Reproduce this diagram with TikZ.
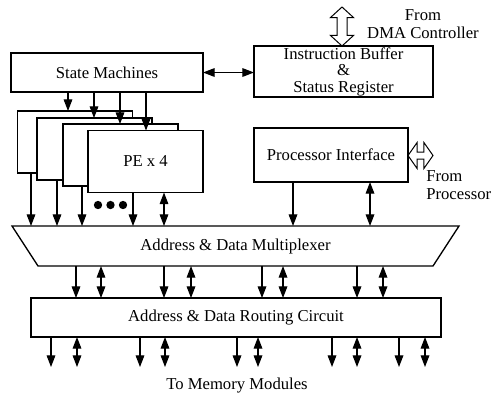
\documentclass[tikz,border=0pt]{standalone}
\usepackage{fontspec}
\setmainfont{Liberation Serif}
\usetikzlibrary{arrows.meta,shapes.arrows}

\begin{document}
\begin{tikzpicture}[
  x=0.6pt, y=-0.6pt,
  font=\fontsize{10}{12}\selectfont,
  block/.style={draw,line width=0.8pt,fill=white,inner sep=0pt,outer sep=0pt,align=center},
  pe/.style={block,minimum width=69pt,minimum height=37.2pt},
  to/.style={-{Triangle[length=7pt,width=5.2pt]},line width=0.7pt},
  both/.style={{Triangle[length=7pt,width=5.2pt]}-{Triangle[length=7pt,width=5.2pt]},line width=0.7pt},
  hollow/.style={draw,line width=0.6pt,double arrow,inner xsep=0pt,outer sep=0pt},
  dot/.style={circle,fill,inner sep=0pt,minimum size=5pt}]

  \useasboundingbox (0,0) rectangle (491,395);

  % Control blocks on top
  \node[block,minimum width=115.2pt,minimum height=23.4pt] (sm) at (107,72.5) {State Machines};
  \node[block,minimum width=107.4pt,minimum height=30.6pt,font=\fontsize{10}{9.9}\selectfont]
    (ib) at (343.5,71.5) {Instruction Buffer\\\&\\Status Register};
  \node[hollow,rotate=90,minimum height=23.4pt,inner ysep=2.7pt,
    double arrow head extend=3.9pt,double arrow tip angle=95] (dma) at (342,26.5) {};
  \node[align=center,font=\fontsize{10}{11}\selectfont] (dmatxt) at (423,24) {From\\DMA Controller};

  % Stack of processing elements
  \node[pe] (pe1) at (75,142) {};
  \node[pe] (pe2) at (94.5,149) {};
  \node[pe] (pe3) at (120.5,155) {};
  \node[pe] (pe4) at (145.5,161.5) {PE x 4};
  \node[dot] (d1) at (98,205) {};
  \node[dot] (d2) at (110.5,205) {};
  \node[dot] (d3) at (123,205) {};

  \node[block,minimum width=92.4pt,minimum height=32.4pt] (pi) at (331,155) {Processor Interface};
  \node[hollow,minimum height=15pt,inner ysep=1.8pt,
    double arrow head extend=5.7pt,double arrow tip angle=110] (proc) at (420.5,155.5) {};
  \node[align=left,anchor=west,inner sep=0pt,font=\fontsize{10}{11}\selectfont] (proctxt) at (426,185) {From\\Processor};

  % Multiplexer and routing circuit
  \node[minimum width=268.2pt,minimum height=24pt,inner sep=0pt,outer sep=0pt]
    (mux) at (235.5,246) {Address \& Data Multiplexer};
  \draw[line width=0.8pt] (mux.north west) -- (mux.north east)
    -- ([xshift=-15.6pt]mux.south east) -- ([xshift=15.6pt]mux.south west) -- cycle;
  \node[block,minimum width=246pt,minimum height=23.4pt] (rc) at (236,317.5) {Address \& Data Routing Circuit};

  \coordinate (mem) at (236,367);
  \node (memtxt) at (237,386) {To Memory Modules};

  % Arrows between the blocks
  \draw[both] (sm.east) -- (sm.east -| ib.west);

  \draw[to] (sm.south -| 68,0) -- (pe1.north -| 68,0);
  \draw[to] (sm.south -| 94,0) -- (pe2.north -| 94,0);
  \draw[to] (sm.south -| 120,0) -- (pe3.north -| 120,0);
  \draw[to] (sm.south -| 146,0) -- (pe4.north -| 146,0);

  \draw[to] (pe1.south -| 31,0) -- (mux.north -| 31,0);
  \draw[to] (pe2.south -| 57,0) -- (mux.north -| 57,0);
  \draw[to] (pe3.south -| 82,0) -- (mux.north -| 82,0);
  \draw[to] (pe4.south -| 133,0) -- (mux.north -| 133,0);
  \draw[both] (pe4.south -| 164,0) -- (mux.north -| 164,0);

  \draw[to] (pi.south -| 293,0) -- (mux.north -| 293,0);
  \draw[both] (pi.south -| 370,0) -- (mux.north -| 370,0);

  \draw[to] (mux.south -| 76,0) -- (rc.north -| 76,0);
  \draw[both] (mux.south -| 101,0) -- (rc.north -| 101,0);
  \draw[to] (mux.south -| 164,0) -- (rc.north -| 164,0);
  \draw[both] (mux.south -| 191,0) -- (rc.north -| 191,0);
  \draw[to] (mux.south -| 262,0) -- (rc.north -| 262,0);
  \draw[both] (mux.south -| 283,0) -- (rc.north -| 283,0);
  \draw[to] (mux.south -| 357,0) -- (rc.north -| 357,0);
  \draw[both] (mux.south -| 383,0) -- (rc.north -| 383,0);

  \draw[to] (rc.south -| 51,0) -- (mem -| 51,0);
  \draw[both] (rc.south -| 77,0) -- (mem -| 77,0);
  \draw[to] (rc.south -| 140,0) -- (mem -| 140,0);
  \draw[both] (rc.south -| 165,0) -- (mem -| 165,0);
  \draw[to] (rc.south -| 237,0) -- (mem -| 237,0);
  \draw[both] (rc.south -| 258,0) -- (mem -| 258,0);
  \draw[to] (rc.south -| 332,0) -- (mem -| 332,0);
  \draw[both] (rc.south -| 357,0) -- (mem -| 357,0);
  \draw[to] (rc.south -| 399,0) -- (mem -| 399,0);
  \draw[both] (rc.south -| 425,0) -- (mem -| 425,0);

\end{tikzpicture}
\end{document}
